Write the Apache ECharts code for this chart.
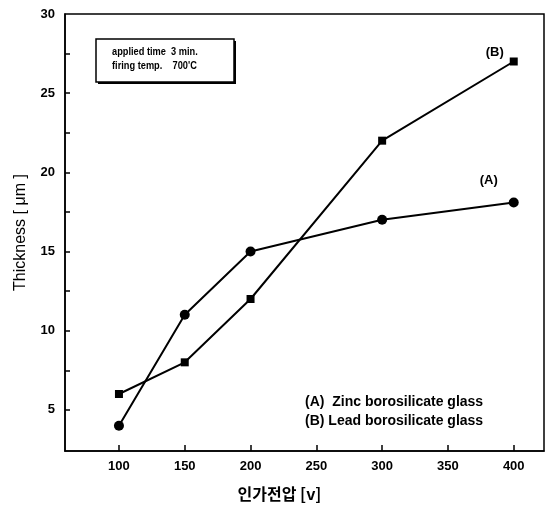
<!DOCTYPE html>
<html><head><meta charset="utf-8">
<script src="https://cdn.jsdelivr.net/npm/echarts@6/dist/echarts.min.js"></script>
<style>html,body{margin:0;padding:0;background:#fff}#c{width:551px;height:508px}</style>
</head><body><div id="c"></div>
<script>
const voltages = [100, 150, 200, 300, 400];
const seriesA = [4, 11, 15, 17, 18.1];
const seriesB = [6, 8, 12, 22, 27];
const xTickLabels = [100, 150, 200, 250, 300, 350, 400];
const yTickLabels = [5, 10, 15, 20, 25, 30];
const yTickMarks = [5, 7.5, 10, 12.5, 15, 17.5, 20, 22.5, 25, 27.5];
const noteLines = ['applied time  3 min.', 'firing temp.    700\'C'];
const legendLines = ['(A)  Zinc borosilicate glass', '(B) Lead borosilicate glass'];
const seriesTags = ['(A)', '(B)'];

const FONT = '"Liberation Sans", Arial, sans-serif';
function pts(vals, tag, off) {
  return vals.map((v, i) => {
    const p = { value: [voltages[i], v] };
    if (i === vals.length - 1) {
      p.label = { show: true, formatter: tag, position: 'inside', offset: off,
        color: '#000', fontFamily: FONT, fontWeight: 'bold', fontSize: 13 };
    }
    return p;
  });
}
const chart = echarts.init(document.getElementById('c'), null, { renderer: 'canvas' });
chart.setOption({
  animation: false,
  backgroundColor: '#fff',
  grid: { left: 65, right: 7, top: 14, bottom: 57, show: true, borderColor: '#000', borderWidth: 1.5, backgroundColor: 'transparent' },
  xAxis: {
    type: 'value', min: 59, max: 423,
    name: '인가전압 [v]', nameLocation: 'middle', nameGap: 35,
    nameTextStyle: { color: '#000', fontFamily: '"Noto Sans CJK KR", sans-serif', fontWeight: 'bold', fontSize: 16, padding: [0, 50, 0, 0] },
    axisLine: { show: true, lineStyle: { color: '#000', width: 1.5 } },
    axisTick: { show: true, inside: true, length: 6, customValues: xTickLabels, lineStyle: { color: '#000', width: 1.5 } },
    axisLabel: { customValues: xTickLabels, color: '#000', fontFamily: FONT, fontWeight: 'bold', fontSize: 13, margin: 9 },
    splitLine: { show: false }
  },
  yAxis: {
    type: 'value', min: 2.4, max: 30,
    name: 'Thickness [ μm ]', nameLocation: 'middle', nameGap: 36,
    nameTextStyle: { color: '#000', fontFamily: FONT, fontSize: 16 },
    axisLine: { show: true, lineStyle: { color: '#000', width: 1.5 } },
    axisTick: { show: true, inside: true, length: 5, customValues: yTickMarks, lineStyle: { color: '#000', width: 1.5 } },
    axisLabel: { customValues: yTickLabels, color: '#000', fontFamily: FONT, fontWeight: 'bold', fontSize: 13, margin: 10 },
    splitLine: { show: false }
  },
  series: [
    { name: 'A', type: 'line', data: pts(seriesA, seriesTags[0], [-25, -22]), symbol: 'circle', symbolSize: 10,
      lineStyle: { color: '#000', width: 2 }, itemStyle: { color: '#000' } },
    { name: 'B', type: 'line', data: pts(seriesB, seriesTags[1], [-19, -9]), symbol: 'rect', symbolSize: 8,
      lineStyle: { color: '#000', width: 2 }, itemStyle: { color: '#000' } }
  ],
  graphic: [
    { type: 'rect', shape: { x: 98, y: 41, width: 138, height: 43 }, style: { fill: '#000' }, z: 10 },
    { type: 'rect', shape: { x: 96, y: 39, width: 138, height: 43 }, style: { fill: '#fff', stroke: '#000', lineWidth: 1.5 }, z: 11 },
    { type: 'text', x: 112, y: 52, scaleX: 0.88, z: 12, style: { text: noteLines[0], fill: '#000', font: 'bold 10.5px ' + FONT, verticalAlign: 'middle' } },
    { type: 'text', x: 112, y: 66, scaleX: 0.88, z: 12, style: { text: noteLines[1], fill: '#000', font: 'bold 10.5px ' + FONT, verticalAlign: 'middle' } },
    { type: 'text', x: 305, y: 402, z: 12, style: { text: legendLines[0], fill: '#000', font: 'bold 14px ' + FONT, verticalAlign: 'middle' } },
    { type: 'text', x: 305, y: 421, z: 12, style: { text: legendLines[1], fill: '#000', font: 'bold 14px ' + FONT, verticalAlign: 'middle' } }
  ]
});
</script></body></html>
